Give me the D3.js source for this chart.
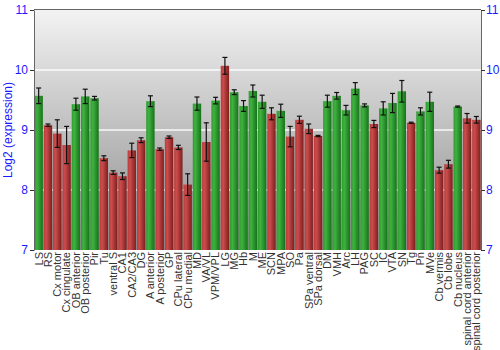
<!DOCTYPE html>
<html>
<head>
<meta charset="utf-8">
<script src="https://cdn.jsdelivr.net/npm/d3@7"></script>
<style>
  html, body { margin: 0; padding: 0; background: #fff; }
  svg { display: block; font-family: "Liberation Sans", Arial, sans-serif; }
</style>
</head>
<body>
<svg id="chart" width="500" height="350"></svg>
<script>
// Brain regions, mean log2 expression and error (±) per region
const regions = ["LS", "RS", "Cx motor", "Cx cingulate", "OB anterior", "OB posterior", "Pir", "Tu",
  "ventral S", "CA1", "CA2/CA3", "DG", "A anterior", "A posterior", "GP", "CPu lateral",
  "CPu medial", "MD", "VA/VL", "VPM/VPL", "LG", "MG", "Hb", "M", "ME", "SCN", "MPA", "SO",
  "Pa", "SPa ventral", "SPa dorsal", "DM", "VMH", "Arc", "LH", "PAG", "SC", "IC", "VTA", "SN",
  "Tg", "Pn", "MVe", "Cb vermis", "Cb lobe", "Cb nucleus", "spinal cord anterior", "spinal cord posterior"];
const expression = [9.57, 9.08, 8.94, 8.75, 9.43, 9.56, 9.53, 8.53,
  8.29, 8.23, 8.66, 8.83, 9.48, 8.68, 8.88, 8.71,
  8.09, 9.44, 8.80, 9.49, 10.07, 9.63, 9.40, 9.65, 9.47, 9.27, 9.32, 8.89,
  9.17, 9.02, 8.90, 9.48, 9.57, 9.33, 9.69, 9.41, 9.10, 9.36, 9.45, 9.645,
  9.12, 9.31, 9.47, 8.33, 8.43, 9.39, 9.195, 9.17];
const errors = [0.13, 0.02, 0.23, 0.31, 0.10, 0.12, 0.03, 0.04,
  0.03, 0.055, 0.12, 0.04, 0.09, 0.02, 0.02, 0.035,
  0.18, 0.11, 0.32, 0.055, 0.14, 0.04, 0.09, 0.10, 0.11, 0.10, 0.11, 0.17,
  0.06, 0.08, 0.01, 0.10, 0.055, 0.08, 0.10, 0.025, 0.06, 0.11, 0.16, 0.18,
  0.01, 0.06, 0.16, 0.05, 0.065, 0.01, 0.08, 0.055];
// Group per region: "g" drawn green, "r" drawn red
const groups = ["g", "r", "r", "r", "g", "g", "g", "r",
  "r", "r", "r", "r", "g", "r", "r", "r",
  "r", "g", "r", "g", "r", "g", "g", "g", "g", "r", "g", "r",
  "r", "r", "r", "g", "g", "g", "g", "g", "r", "g", "g", "g",
  "r", "g", "g", "r", "r", "g", "r", "r"];
const yTicks = [7, 8, 9, 10, 11];

const svg = d3.select("#chart");
const plotLeft = 34, plotRight = 481, plotTop = 10, plotBottom = 250;

const x = d3.scaleBand().domain(regions).range([plotLeft, plotRight]).paddingInner(0.1).paddingOuter(0.05);
const y = d3.scaleLinear().domain([7, 11]).range([plotBottom, plotTop]);

const defs = svg.append("defs");
const bg = defs.append("linearGradient").attr("id", "bg").attr("x1", 0).attr("y1", 0).attr("x2", 0).attr("y2", 1);
bg.append("stop").attr("offset", "0%").attr("stop-color", "#f3f3f3");
bg.append("stop").attr("offset", "100%").attr("stop-color", "#8a8a8a");

function barGradient(id, light, mid, dark) {
  const g = defs.append("linearGradient").attr("id", id).attr("x1", 0).attr("y1", 0).attr("x2", 1).attr("y2", 0);
  g.append("stop").attr("offset", "0%").attr("stop-color", mid);
  g.append("stop").attr("offset", "30%").attr("stop-color", light);
  g.append("stop").attr("offset", "100%").attr("stop-color", dark);
}
barGradient("gGreen", "#3fb23f", "#2f9a2f", "#16721a");
barGradient("gRed", "#cc4c4c", "#b83c3c", "#7e1e1e");

// plot background
svg.append("rect").attr("x", plotLeft).attr("y", plotTop)
  .attr("width", plotRight - plotLeft).attr("height", plotBottom - plotTop)
  .attr("fill", "url(#bg)");

// horizontal grid
svg.append("g").selectAll("line").data(yTicks.slice(1, -1)).join("line")
  .attr("x1", plotLeft).attr("x2", plotRight).attr("y1", d => y(d)).attr("y2", d => y(d))
  .attr("stroke", "#ffffff").attr("stroke-width", 1.5).attr("opacity", 0.9);

// bars
svg.append("g").selectAll("rect").data(regions).join("rect")
  .attr("x", d => x(d)).attr("width", x.bandwidth())
  .attr("y", (d, i) => y(expression[i]))
  .attr("height", (d, i) => y(7) - y(expression[i]))
  .attr("fill", (d, i) => groups[i] === "g" ? "url(#gGreen)" : "url(#gRed)");

// error bars
const eb = svg.append("g").selectAll("g").data(regions).join("g")
  .attr("transform", d => `translate(${x(d) + x.bandwidth() / 2},0)`);
eb.append("line").attr("y1", (d, i) => y(expression[i] + errors[i])).attr("y2", (d, i) => y(expression[i] - errors[i]))
  .attr("stroke", "#111").attr("stroke-width", 1.2);
eb.append("line").attr("x1", -2.5).attr("x2", 2.5)
  .attr("y1", (d, i) => y(expression[i] + errors[i])).attr("y2", (d, i) => y(expression[i] + errors[i]))
  .attr("stroke", "#111").attr("stroke-width", 1.2);
eb.append("line").attr("x1", -2.5).attr("x2", 2.5)
  .attr("y1", (d, i) => y(expression[i] - errors[i])).attr("y2", (d, i) => y(expression[i] - errors[i]))
  .attr("stroke", "#111").attr("stroke-width", 1.2);

// frame top
svg.append("line").attr("x1", plotLeft).attr("x2", plotRight).attr("y1", plotTop - 0.5).attr("y2", plotTop - 0.5)
  .attr("stroke", "#666").attr("stroke-width", 1);

// axes
const yl = svg.append("g").attr("transform", `translate(${plotLeft},0)`)
  .call(d3.axisLeft(y).tickValues(yTicks).tickFormat(d3.format("d")).tickSize(4).tickPadding(2).tickSizeOuter(0));
const yr = svg.append("g").attr("transform", `translate(${plotRight},0)`)
  .call(d3.axisRight(y).tickValues(yTicks).tickFormat(d3.format("d")).tickSize(4).tickPadding(1).tickSizeOuter(0));
[yl, yr].forEach(a => {
  a.select(".domain").attr("stroke", "#666");
  a.selectAll(".tick line").attr("stroke", "#333");
  a.selectAll(".tick text").attr("fill", "#1a1aff").style("font-size", "12px")
    .style("font-family", "\"Liberation Sans\", Arial, sans-serif");
});

// category labels
const xa = svg.append("g").attr("transform", `translate(0,${plotBottom})`)
  .call(d3.axisBottom(x).tickSize(0));
xa.select(".domain").remove();
xa.selectAll(".tick text")
  .attr("transform", "rotate(-90)")
  .attr("x", -2).attr("y", 0).attr("dy", "0.35em")
  .attr("text-anchor", "end")
  .attr("fill", "#333")
  .style("font-size", "11px")
  .style("font-family", "\"Liberation Sans\", Arial, sans-serif");

// y axis title
svg.append("text").attr("transform", `translate(12,${(plotTop + plotBottom) / 2}) rotate(-90)`)
  .attr("text-anchor", "middle").attr("fill", "#1a1aff").style("font-size", "12px")
  .text("Log2 (expression)");
</script>
</body>
</html>
